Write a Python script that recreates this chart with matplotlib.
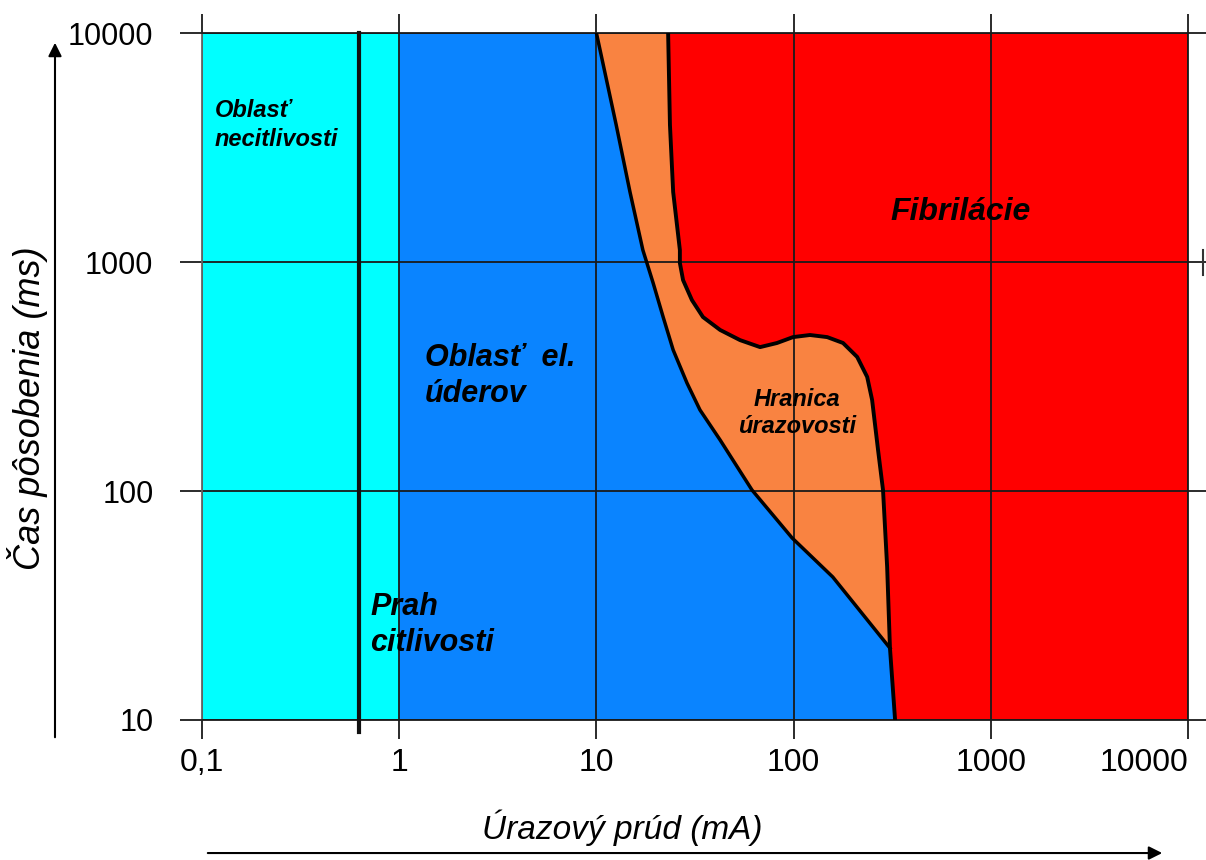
import matplotlib.pyplot as plt
from matplotlib import font_manager
from matplotlib.patches import FancyArrowPatch
from matplotlib.ticker import FixedLocator, FixedFormatter, NullLocator

plt.rcParams['font.family'] = ['Liberation Sans', 'DejaVu Sans']
names = {f.name for f in font_manager.fontManager.ttflist}
narrow = 'Liberation Sans Narrow' if 'Liberation Sans Narrow' in names else 'Liberation Sans'

# boundary between "el. udery" and "hranica urazovosti" (mA, ms)
left_x = [10, 12.6, 14.8, 17.2, 19.4, 21.8, 24.5, 28.8, 33.5, 42.4, 61.5,
          98.2, 158, 308]
left_y = [10000, 3965, 2022, 1128, 809, 575, 413, 296, 226, 167, 101,
          62.4, 42.1, 20.6]

# boundary between "hranica urazovosti" and "fibrilacie"
right_x = [23.1, 23.6, 24.5, 26.5, 26.5, 27.5, 30.5, 34.7, 42.4, 53.5, 67.6,
           82.4, 99.3, 121, 148, 178, 210, 236, 250, 268, 284, 298, 308]
right_y = [10000, 3965, 2022, 1128, 990, 834, 682, 575, 505, 456, 425,
           443, 470, 480, 470, 443, 385, 315, 250, 151, 101, 46.6, 20.6]
# bottom end of the fibrillation boundary
tail_x = [308, 327]
tail_y = [20.6, 10]

threshold = 0.625  # prah citlivosti

x_ticks = [0.1, 1, 10, 100, 1000, 10000]
x_labels = ['0,1', '1', '10', '100', '1000', '10000']
y_ticks = [10, 100, 1000, 10000]
y_labels = ['10', '100', '1000', '10000']

cyan = '#00FFFF'
blue = '#0A84FF'
orange = '#F98341'
red = '#FF0000'

fig = plt.figure(figsize=(12.06, 8.6), dpi=100)
ax = fig.add_axes([0.1675, 0.1628, 0.8176, 0.7988])
ax.set_xscale('log')
ax.set_yscale('log')
ax.set_xlim(0.1, 10000)
ax.set_ylim(10, 10000)

# red area right of the fibrillation boundary
rx = right_x + tail_x[1:] + [10000, 10000]
ry = right_y + tail_y[1:] + [10, 10000]
ax.fill(rx, ry, color=red, lw=0)

# orange area between the two curves
ax.fill(left_x + right_x[::-1], left_y + right_y[::-1], color=orange, lw=0)

# blue area
ax.fill([1, 1] + left_x + tail_x[1:], [10, 10000] + left_y + tail_y[1:],
        color=blue, lw=0)

ax.axvspan(0.1, 1, color=cyan, lw=0)

ax.plot(left_x, left_y, color='black', lw=2.5, zorder=3,
        solid_joinstyle='round')
ax.plot(right_x + tail_x[1:], right_y + tail_y[1:], color='black', lw=2.8,
        zorder=3, solid_joinstyle='round')
ax.plot([threshold, threshold], [8.9, 10000], color='#111111', lw=3, zorder=3,
        clip_on=False)
ax.plot([11900, 11900], [877, 1128], color='#333333', lw=1.5, clip_on=False)

ax.xaxis.set_major_locator(FixedLocator(x_ticks))
ax.xaxis.set_major_formatter(FixedFormatter(x_labels))
ax.yaxis.set_major_locator(FixedLocator(y_ticks))
ax.yaxis.set_major_formatter(FixedFormatter(y_labels))
ax.xaxis.set_minor_locator(NullLocator())
ax.yaxis.set_minor_locator(NullLocator())

ax.grid(True, color='#1a1a1a', lw=1.3)
ax.tick_params(axis='x', which='major', length=14, width=1.3, color='#1a1a1a',
               labelsize=23, pad=6, top=True)
ax.tick_params(axis='y', which='major', length=16, width=1.3, color='#1a1a1a',
               labelsize=22, pad=19, right=True)
for lab in ax.get_xticklabels():
    lab.set_family(narrow)
ax.get_xticklabels()[-1].set_horizontalalignment('right')
for s in ax.spines.values():
    s.set_color('#1a1a1a')
    s.set_linewidth(1.3)
ax.spines['left'].set_color('#666666')

txt = dict(fontweight='bold', fontstyle='italic', color='black', zorder=4)
ax.text(0.1164, 3965, 'Oblasť\nnecitlivosti', ha='left', va='center',
        fontsize=17, linespacing=1.3, **txt)
ax.text(308, 1652, 'Fibrilácie', ha='left', va='center', fontsize=23, **txt)
ax.text(1.35, 318, 'Oblasť  el.\núderov', ha='left', va='center',
        fontsize=22, linespacing=1.3, **txt)
ax.text(104, 219, 'Hranica\núrazovosti', ha='center', va='center',
        fontsize=17, linespacing=1.25, **txt)
ax.text(0.711, 26, 'Prah\ncitlivosti', ha='left', va='center',
        fontsize=22, linespacing=1.3, **txt)

fig.text(0.0224, 0.525, 'Čas pôsobenia (ms)', rotation=90, ha='center',
         va='center', fontsize=26, fontstyle='italic', family=narrow)
fig.text(0.516, 0.037, 'Úrazový prúd (mA)', ha='center', va='center',
         fontsize=24, fontstyle='italic', family=narrow)

fig.patches.append(FancyArrowPatch(
    (0.0456, 0.1395), (0.0456, 0.9535), transform=fig.transFigure,
    arrowstyle='-|>,head_length=8,head_width=4', color='black', lw=1.5))
fig.patches.append(FancyArrowPatch(
    (0.170, 0.0081), (0.966, 0.0081), transform=fig.transFigure,
    arrowstyle='-|>,head_length=8,head_width=4', color='black', lw=1.5))

fig.savefig('out.png', dpi=100)
